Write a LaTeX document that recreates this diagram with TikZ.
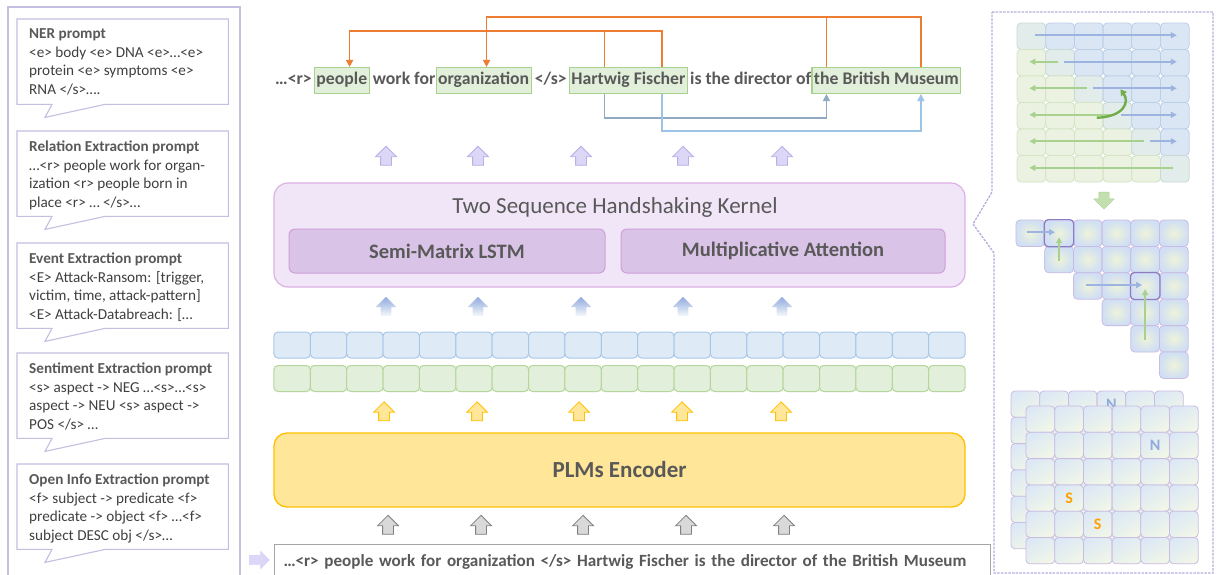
\documentclass[tikz,border=0pt]{standalone}
\usepackage{fontspec}
\setmainfont{Carlito}
\usetikzlibrary{positioning,calc,arrows.meta,shapes.arrows}

\definecolor{txtgray}{HTML}{595959}
\definecolor{bodygray}{HTML}{404040}
\definecolor{panelline}{HTML}{C3BFE0}
\definecolor{dashline}{HTML}{B4AEDC}
\definecolor{tagfill}{HTML}{E2EFDA}
\definecolor{tagline}{HTML}{A9D18E}
\definecolor{linkorange}{HTML}{ED7D31}
\definecolor{linkblue}{HTML}{9DC3E6}
\definecolor{linkslate}{HTML}{8FAAC2}
\definecolor{kernfill}{HTML}{F0E6F7}
\definecolor{kernline}{HTML}{DDB0E6}
\definecolor{modfill}{HTML}{D9C3E6}
\definecolor{modline}{HTML}{D0A0DA}
\definecolor{lavfill}{HTML}{DCD6F7}
\definecolor{lavline}{HTML}{B8AEE8}
\definecolor{gradtop}{HTML}{8FAADC}
\definecolor{gradbot}{HTML}{F4F7FC}
\definecolor{yelfill}{HTML}{FFE699}
\definecolor{yelline}{HTML}{FFC000}
\definecolor{grayfill}{HTML}{D9D9D9}
\definecolor{grayline}{HTML}{7F7F7F}
\definecolor{tokblue}{HTML}{DEEBF7}
\definecolor{tokblueline}{HTML}{A9C7E8}
\definecolor{tokgreen}{HTML}{E2EFDA}
\definecolor{tokgreenline}{HTML}{B5D69C}
\definecolor{gblue}{HTML}{DAE6F4}
\definecolor{gblueline}{HTML}{BCCFE8}
\definecolor{ggreen}{HTML}{EBF2E1}
\definecolor{ggreenline}{HTML}{D2E4C3}
\definecolor{arrblue}{HTML}{9DB4E0}
\definecolor{arrgreen}{HTML}{A9D18E}
\definecolor{curvegreen}{HTML}{70AD47}
\definecolor{cellmid}{HTML}{EEF3DA}
\definecolor{celledge}{HTML}{D0DFF3}
\definecolor{cellpurple}{HTML}{C9BCE3}
\definecolor{markpurple}{HTML}{8E7CC3}
\definecolor{celltop}{HTML}{DCE8F5}
\definecolor{cellbot}{HTML}{F1F6E8}
\definecolor{nblue}{HTML}{8FAADC}
\definecolor{sorange}{HTML}{FFA000}

\tikzset{
  word/.style={inner xsep=0pt, inner ysep=4.6pt, text height=12.8pt, text depth=4pt,
    font=\bfseries\fontsize{17.7}{20}\selectfont, text=txtgray},
  tagbox/.style={word, draw=tagline, fill=tagfill, line width=1.1pt, inner xsep=2pt},
  calloutbox/.style={anchor=north west, minimum width=211pt, minimum height=85pt, inner sep=0pt},
  callouttext/.style={anchor=north west, inner sep=0pt, align=left, text=bodygray,
    font=\fontsize{15.2}{18.7}\selectfont},
  calloutborder/.style={draw=panelline, line width=1.1pt, fill=white},
  blockup/.style={single arrow, shape border rotate=90, minimum height=19pt,
    minimum width=20pt, single arrow head extend=5pt, inner sep=5pt, line width=0.8pt},
  lavarrow/.style={fill=lavfill, draw=lavline},
  gradarrow/.style={top color=gradtop, bottom color=gradbot, draw=none},
  yelarrow/.style={fill=yelfill, draw=yelline},
  grayarrow/.style={fill=grayfill, draw=grayline},
  orangelink/.style={draw=linkorange, line width=1.5pt},
  bluelink/.style={draw=linkblue, line width=1.5pt},
  slatelink/.style={draw=linkslate, line width=1.5pt},
  tok/.style={minimum width=36.4pt, minimum height=26pt, rounded corners=4pt, line width=1pt},
  gcell/.style={minimum width=28.7pt, minimum height=26.5pt, rounded corners=4pt, line width=0.8pt},
  tcell/.style={minimum width=28.7pt, minimum height=26.4pt, rounded corners=4pt, line width=0.8pt,
    draw=cellpurple, inner color=cellmid, outer color=celledge},
  scell/.style={minimum width=28.7pt, minimum height=26.3pt, rounded corners=4pt, line width=0.8pt,
    draw=cellpurple, top color=celltop, bottom color=cellbot, shading angle=30},
  tagletter/.style={font=\bfseries\fontsize{16}{16}\selectfont},
  gridarrb/.style={draw=arrblue, line width=1.6pt, -{Triangle[width=6pt,length=6pt]}},
  gridarrg/.style={draw=arrgreen, line width=1.6pt, -{Triangle[width=6pt,length=6pt]}},
}

\newcommand{\calloutline}[1]{%
  \draw[calloutborder] (#1.south west) -- (#1.north west) -- (#1.north east) -- (#1.south east)
    -- ($(#1.south west)+(88,0)$) -- ($(#1.south west)+(28,13)$) -- ($(#1.south west)+(35,0)$) -- cycle;}

\begin{document}
\begin{tikzpicture}[x=1pt,y=-1pt]
\useasboundingbox (0,0) rectangle (1217,574);
\fill[white] (0,0) rectangle (1217,574);

% prompt panel
\draw[panelline, line width=1.2pt] (8,590) -- (8,7) -- (240,7) -- (240,590);
\node[calloutbox] (ner) at (17,19) {};
\node[calloutbox] (rel) at (17,131) {};
\node[calloutbox] (evt) at (17,243) {};
\node[calloutbox] (sen) at (17,353) {};
\node[calloutbox] (oie) at (17,464) {};
\foreach \b in {ner,rel,evt,sen,oie}{\calloutline{\b}}
\node[callouttext] (nertxt) at ($(ner.north west)+(12,9.5)$) {\textcolor{txtgray}{\textbf{NER prompt}}\\
  <e> body <e> DNA <e>…<e>\\ protein <e> symptoms <e>\\ RNA </s>….};
\node[callouttext] (reltxt) at ($(rel.north west)+(12,9.5)$) {\textcolor{txtgray}{\textbf{Relation Extraction prompt}}\\
  …<r> people work for organ-\\ ization <r> people born in\\ place <r> … </s>…};
\node[callouttext] (evttxt) at ($(evt.north west)+(12,9.5)$) {\textcolor{txtgray}{\textbf{Event Extraction prompt}}\\
  <E> Attack-Ransom: [trigger,\\ victim, time, attack-pattern]\\ <E> Attack-Databreach: […};
\node[callouttext] (sentxt) at ($(sen.north west)+(12,9.5)$) {\textcolor{txtgray}{\textbf{Sentiment Extraction prompt}}\\
  <s> aspect -> NEG …<s>…<s>\\ aspect -> NEU <s> aspect ->\\ POS </s> …};
\node[callouttext] (oietxt) at ($(oie.north west)+(12,9.5)$) {\textcolor{txtgray}{\textbf{Open Info Extraction prompt}}\\
  <f> subject -> predicate <f>\\ predicate -> object <f> …<f>\\ subject DESC obj </s>…};

% output sentence with tagged spans
\node[word, anchor=west] (w1) at (275,80.5) {…<r>};
\node[tagbox, right=2pt of w1] (people) {people};
\node[word, right=3pt of people] (w2) {work for};
\node[tagbox, right=0pt of w2] (org) {organization};
\node[word, right=3pt of org] (w3) {</s>};
\node[tagbox, right=2pt of w3] (hart) {Hartwig Fischer};
\node[word, right=2pt of hart] (w4) {is the director of};
\node[tagbox, right=0pt of w4] (museum) {the British Museum};

\coordinate (pe) at ($(people.north west)!0.64!(people.north east)$);
\coordinate (og) at ($(org.north west)!0.53!(org.north east)$);
\coordinate (h1) at ($(hart.north west)!0.30!(hart.north east)$);
\coordinate (h2) at ($(hart.north west)!0.78!(hart.north east)$);
\coordinate (m1) at ($(museum.north west)!0.10!(museum.north east)$);
\coordinate (m2) at ($(museum.north west)!0.73!(museum.north east)$);
\coordinate (hb1) at ($(hart.south west)!0.30!(hart.south east)$);
\coordinate (hb2) at ($(hart.south west)!0.78!(hart.south east)$);
\coordinate (mb1) at ($(museum.south west)!0.10!(museum.south east)$);
\coordinate (mb2) at ($(museum.south west)!0.73!(museum.south east)$);

\draw[orangelink] (h1) -- (h1 |- 0,31);
\draw[orangelink, -{Triangle[width=7pt,length=7pt]}] (h2) -- (h2 |- 0,31) -| (pe);
\draw[orangelink] (m1) -- (m1 |- 0,17);
\draw[orangelink, -{Triangle[width=7pt,length=7pt]}] (m2) -- (m2 |- 0,17) -| (og);
\draw[slatelink, -{Triangle[width=7pt,length=7pt]}] (hb1) -- (hb1 |- 0,118) -| (mb1);
\draw[bluelink, -{Triangle[width=7pt,length=7pt]}] (hb2) -- (hb2 |- 0,131) -| (mb2);

% kernel
\node[draw=kernline, fill=kernfill, line width=1.2pt, rounded corners=14pt,
  minimum width=691pt, minimum height=104pt] (kernel) at (619.5,235) {};
\node[text=txtgray, font=\fontsize{23}{24}\selectfont] (ktitle) at (615,207) {Two Sequence Handshaking Kernel};
\node[draw=modline, fill=modfill, line width=1pt, rounded corners=6pt, minimum width=316pt,
  minimum height=44pt, text=txtgray, font=\bfseries\fontsize{20.5}{22}\selectfont] (lstm) at (447,251) {Semi-Matrix LSTM};
\node[draw=modline, fill=modfill, line width=1pt, rounded corners=6pt, minimum width=324pt,
  minimum height=44pt, text=txtgray, font=\bfseries\fontsize{20.5}{22}\selectfont] (attn) at (783,251) {Multiplicative Attention};

% block arrows
\foreach \x [count=\i] in {386,478,581,683,782} \node[blockup, lavarrow] (la\i) at (\x,158.5) {};
\foreach \x [count=\i] in {386,478,581,683,782} \node[blockup, gradarrow] (ba\i) at (\x,309) {};
\foreach \x [count=\i] in {384,477,579,682,781} \node[blockup, yelarrow] (ya\i) at (\x,414) {};
\foreach \x [count=\i] in {388,481,583,686,784} \node[blockup, grayarrow] (ka\i) at (\x,527.5) {};

% token rows
\foreach \i in {0,...,18}{
  \node[tok, draw=tokblueline, fill=tokblue] (tb\i) at ({274+(\i+0.5)*36.37},345) {};
  \node[tok, draw=tokgreenline, fill=tokgreen] (tg\i) at ({274+(\i+0.5)*36.37},378.5) {};
}

% encoder
\node[draw=yelline, fill=yelfill, line width=1.3pt, rounded corners=13pt, minimum width=691pt,
  minimum height=74pt, text=txtgray, font=\bfseries\fontsize{23}{24}\selectfont] (plm) at (619.5,470) {PLMs Encoder};

% input sentence
\node[draw=grayline!70, fill=white, line width=1pt, anchor=north west, minimum width=716pt,
  minimum height=34pt, text width=698pt, inner xsep=9pt, align=left, text=txtgray,
  font=\bfseries\fontsize{17.1}{20}\selectfont] (input) at (274,544)
  {…<r> people work for organization </s> Hartwig Fischer is the director of the British Museum};
\node[single arrow, minimum height=20pt, minimum width=17pt, single arrow head extend=4pt,
  inner sep=4.5pt, fill=lavfill, draw=lavfill!80!lavline] (inarrow) at (257,560) {};

% handshaking panel
\draw[dashline, line width=1.3pt, dash pattern=on 2.5pt off 1.2pt]
  (992,12) -- (1213,12) -- (1213,573) -- (994,573) -- (994,253) -- (973,224) -- (992,192) -- cycle;

% full matrix
\foreach \r in {0,...,5}{
  \foreach \c in {0,...,5}{
    \ifnum\c>\r \colorlet{cf}{gblue}\colorlet{cd}{gblueline}\else
      \ifnum\c<\r \colorlet{cf}{ggreen}\colorlet{cd}{ggreenline}\else
        \colorlet{cf}{gblue!50!ggreen}\colorlet{cd}{gblueline!50!ggreenline}\fi\fi
    \node[gcell, fill=cf, draw=cd] (ga-\r-\c) at ({1017+(\c+0.5)*28.7},{23+(\r+0.5)*26.5}) {};
  }
}
\foreach \r in {1,...,5}
  \draw[gridarrg] ($(ga-\r-\r.center)+(-2,-1)$) -- ($(ga-\r-0.center)+(-2,-1)$);
\foreach \r in {0,...,4}
  \draw[gridarrb] ($(ga-\r-\r.center)+(4,-1)$) -- ($(ga-\r-5.center)+(2,-1)$);
\draw[curvegreen, line width=2.4pt, -{Triangle[width=7pt,length=6pt]}]
  ($(ga-3-2.center)+(8,2)$) .. controls ($(ga-3-3.center)+(7,1)$) and ($(ga-3-3.center)+(12,-14)$) .. ($(ga-2-3.center)+(3,0)$);
\node[single arrow, shape border rotate=270, minimum height=17pt, minimum width=20pt,
  single arrow head extend=5pt, inner sep=5pt, fill=arrgreen!70, draw=arrgreen] (down) at (1104,198) {};

% upper triangle
\foreach \r in {0,...,5}{
  \foreach \c in {\r,...,5}{
    \node[tcell] (gb-\r-\c) at ({1016+(\c+0.5)*28.7},{220+(\r+0.5)*26.4}) {};
  }
}
\draw[markpurple, line width=1.2pt, rounded corners=4pt] (gb-0-1.north west) rectangle (gb-0-1.south east);
\draw[markpurple, line width=1.2pt, rounded corners=4pt] (gb-2-4.north west) rectangle (gb-2-4.south east);
\draw[gridarrb] ($(gb-0-0.center)+(-3,-1)$) -- ($(gb-0-1.center)+(-4,-1)$);
\draw[gridarrg] ($(gb-1-1.center)+(0,1)$) -- ($(gb-0-1.center)+(0,4)$);
\draw[gridarrb] ($(gb-2-2.center)+(-2,-1)$) -- ($(gb-2-4.center)+(-3,-1)$);
\draw[gridarrg] ($(gb-4-4.center)+(0,1)$) -- ($(gb-2-4.center)+(0,3)$);

% stacked tag matrices
\foreach \r in {0,...,5}{
  \foreach \c in {0,...,5}{
    \node[scell] (gc-\r-\c) at ({1011+(\c+0.5)*28.7},{391+(\r+0.5)*26.3}) {};
  }
}
\node[tagletter, text=nblue] (nback) at (gc-0-3) {N};
\foreach \r in {0,...,5}{
  \foreach \c in {0,...,5}{
    \node[scell] (gd-\r-\c) at ({1026+(\c+0.5)*28.7},{406+(\r+0.5)*26.3}) {};
  }
}
\node[tagletter, text=nblue] (nfront) at (gd-1-4) {N};
\node[tagletter, text=sorange] (s1) at (gd-3-1) {S};
\node[tagletter, text=sorange] (s2) at (gd-4-2) {S};
\end{tikzpicture}
\end{document}
